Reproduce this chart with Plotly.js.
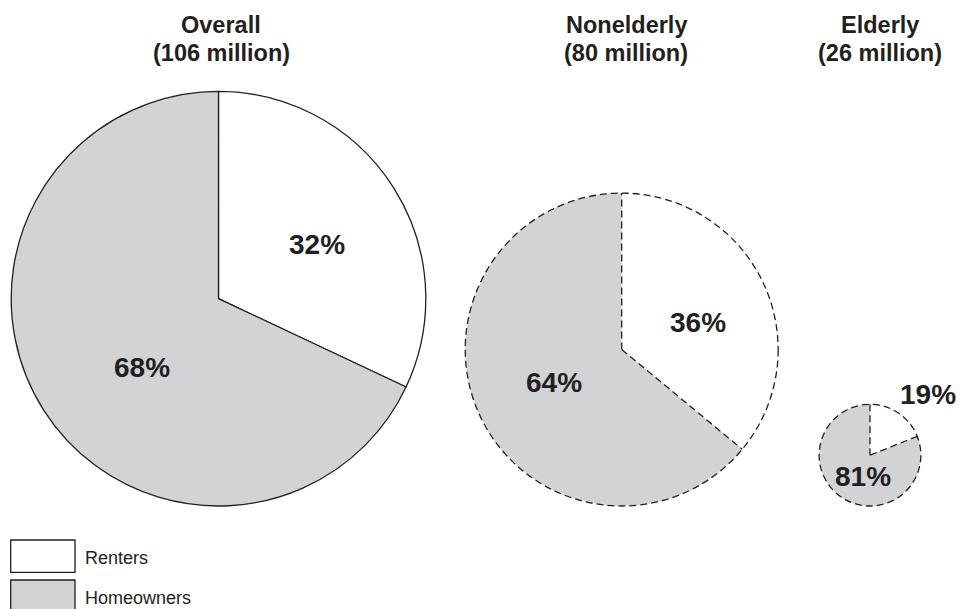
<!DOCTYPE html>
<html>
<head>
<meta charset="utf-8">
<script src="https://cdn.plot.ly/plotly-3.0.1.min.js"></script>
<style>html,body{margin:0;padding:0;background:#fff;}#chart{width:961px;height:609px;}</style>
</head>
<body>
<div id="chart"></div>
<script>
// ---- data ----
const groups = ['Overall', 'Nonelderly', 'Elderly'];
const totalsMillions = [106, 80, 26];
const segments = ['Renters', 'Homeowners'];
const rentersPct = [32, 36, 19];
const homeownersPct = [68, 64, 81];

// ---- layout / style ----
const W = 961, H = 609;
const INK = '#231f20';
const GRAY = '#d1d3d4';
const segColors = ['#ffffff', GRAY];
const FONT = 'Liberation Sans, Arial, Helvetica, sans-serif';
const centersX = [218.5, 621.7, 870];
const bottomY = 506;
const pxPerMillion = 207.3 / 106;
const dashed = [false, true, true];
const titleX = [221, 626, 880];
const titleLineY = [25, 52.5];
const labelPos = [
  [[316.7, 244.5], [141.7, 367.3]],
  [[698, 322.3], [553.8, 382.5]],
  [[928.3, 394.8], [862.5, 476.5]]
];

const px = x => x / W;
const py = y => 1 - y / H;

const traces = [];
const shapes = [];
const annotations = [];

groups.forEach((g, i) => {
  const r = totalsMillions[i] * pxPerMillion;
  const cx = centersX[i];
  const cy = bottomY - r;
  traces.push({
    type: 'pie',
    labels: segments,
    values: [rentersPct[i], homeownersPct[i]],
    sort: false,
    direction: 'clockwise',
    rotation: 0,
    textinfo: 'none',
    hoverinfo: 'skip',
    showlegend: false,
    domain: {x: [px(cx - r), px(cx + r)], y: [py(bottomY), py(bottomY - 2 * r)]},
    marker: {colors: segColors, line: {color: INK, width: dashed[i] ? 0 : 1.3}}
  });
  if (dashed[i]) {
    const dl = {color: INK, width: 1.3, dash: '7px,4px'};
    shapes.push({type: 'circle', xref: 'paper', yref: 'paper',
      x0: px(cx - r), x1: px(cx + r), y0: py(bottomY), y1: py(bottomY - 2 * r), line: dl});
    const th = rentersPct[i] / 100 * 2 * Math.PI;
    shapes.push({type: 'line', xref: 'paper', yref: 'paper',
      x0: px(cx), y0: py(cy), x1: px(cx), y1: py(cy - r), line: dl});
    shapes.push({type: 'line', xref: 'paper', yref: 'paper',
      x0: px(cx), y0: py(cy), x1: px(cx + r * Math.sin(th)), y1: py(cy - r * Math.cos(th)), line: dl});
  }
  const titleLines = [g, '(' + totalsMillions[i] + ' million)'];
  titleLines.forEach((t, k) => {
    annotations.push({
      xref: 'paper', yref: 'paper', x: px(titleX[i]), y: py(titleLineY[k]), xanchor: 'center', yanchor: 'middle',
      text: '<b>' + t + '</b>', showarrow: false,
      font: {family: FONT, size: 23.5, color: INK}
    });
  });
  [rentersPct[i], homeownersPct[i]].forEach((v, j) => {
    annotations.push({
      xref: 'paper', yref: 'paper', x: px(labelPos[i][j][0]), y: py(labelPos[i][j][1]),
      xanchor: 'center', yanchor: 'middle', text: '<b>' + v + '%</b>', showarrow: false,
      font: {family: FONT, size: 28, color: INK}
    });
  });
});

// legend boxes
const legendTop = [540, 580];
segments.forEach((s, j) => {
  shapes.push({type: 'rect', xref: 'paper', yref: 'paper',
    x0: px(10.7), x1: px(75), y0: py(legendTop[j]), y1: py(legendTop[j] + 32.3),
    fillcolor: segColors[j], line: {color: INK, width: 1.3}});
  annotations.push({xref: 'paper', yref: 'paper', x: px(83), y: py(legendTop[j] + 18),
    xanchor: 'left', yanchor: 'middle', text: s, showarrow: false,
    font: {family: FONT, size: 18, color: INK}});
});

const layout = {
  width: W, height: H,
  margin: {l: 0, r: 0, t: 0, b: 0},
  paper_bgcolor: '#ffffff', plot_bgcolor: '#ffffff',
  showlegend: false,
  shapes: shapes,
  annotations: annotations
};

Plotly.newPlot('chart', traces, layout, {staticPlot: true, displayModeBar: false});
</script>
</body>
</html>
